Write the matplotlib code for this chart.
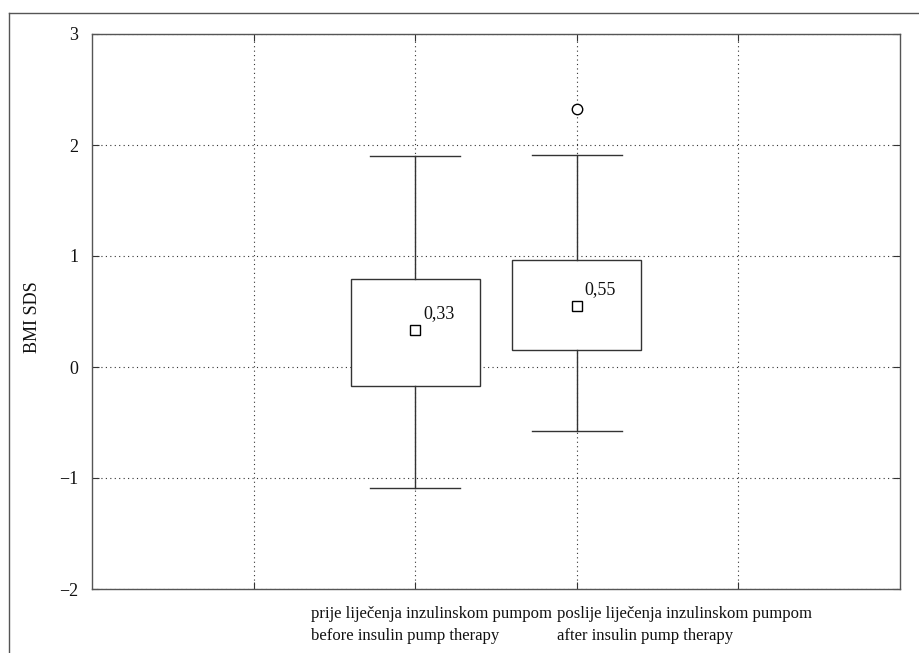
import matplotlib
matplotlib.use("Agg")
import matplotlib.pyplot as plt
from matplotlib.lines import Line2D

plt.rcParams['font.family'] = ['Liberation Serif', 'DejaVu Serif']

# ---- data ----
labels_hr = ["prije liječenja inzulinskom pumpom", "poslije liječenja inzulinskom pumpom"]
labels_en = ["before insulin pump therapy", "after insulin pump therapy"]
positions = [2, 3]
q1 = [-0.17, 0.155]
q3 = [0.79, 0.96]
whislo = [-1.09, -0.575]
whishi = [1.90, 1.91]
means = [0.33, 0.55]
mean_text = ["0,33", "0,55"]
outliers = [[], [2.32]]
yticks = [-2, -1, 0, 1, 2, 3]
ytick_labels = ["\u22122", "\u22121", "0", "1", "2", "3"]
ylabel = "BMI SDS"

W, H = 920, 653
fig = plt.figure(figsize=(W / 100, H / 100), dpi=100)
ax = fig.add_axes([92 / W, (H - 589) / H, 808 / W, 555 / H])

edge = '#333333'
stats = []
for i in range(len(positions)):
    stats.append(dict(q1=q1[i], q3=q3[i], med=(q1[i] + q3[i]) / 2, mean=means[i],
                      whislo=whislo[i], whishi=whishi[i], fliers=outliers[i]))

ax.bxp(stats, positions=positions, widths=0.8, capwidths=0.56, patch_artist=True,
       showmeans=True, shownotches=False,
       boxprops=dict(facecolor='white', edgecolor=edge, linewidth=1.0),
       whiskerprops=dict(color=edge, linewidth=1.0),
       capprops=dict(color=edge, linewidth=1.0),
       medianprops=dict(linewidth=0),
       meanprops=dict(marker='s', markerfacecolor='white', markeredgecolor='black',
                      markersize=6.5, markeredgewidth=1.0),
       flierprops=dict(marker='o', markerfacecolor='white', markeredgecolor='black',
                       markersize=7.5, markeredgewidth=1.0),
       zorder=3)

for x, m, t in zip(positions, means, mean_text):
    ax.annotate(t, xy=(x, m), xytext=(8, 12), textcoords='offset pixels',
                fontsize=13, ha='left', va='baseline', color='#111111', zorder=5)

ax.set_xlim(0, 5)
ax.set_ylim(-2, 3)
ax.set_xticks([1, 2, 3, 4])
ax.set_xticklabels([])
ax.set_yticks(yticks)
ax.set_yticklabels(ytick_labels, fontsize=13)
ax.tick_params(direction='in', length=5, width=0.8, color=edge, top=True, right=True,
               pad=10, labelcolor='#111111')
ax.grid(True, linestyle=(0, (1, 3)), color='#333333', linewidth=0.8, zorder=0)
ax.set_axisbelow(True)
for s in ax.spines.values():
    s.set_color('#555555')
    s.set_linewidth(1.0)

ax.set_ylabel(ylabel, fontsize=13, color='#111111')
ax.yaxis.set_label_coords(-0.0636, 0.49)

# category labels (two lines, left aligned)
label_left_px = [311, 557]
for xp, hr, en in zip(label_left_px, labels_hr, labels_en):
    fig.text(xp / W, 1 - 618 / H, hr, fontsize=12, ha='left', va='baseline', color='#111111')
    fig.text(xp / W, 1 - 640 / H, en, fontsize=12, ha='left', va='baseline', color='#111111')

# outer frame (left and top edges)
fig.add_artist(Line2D([9.5 / W, 9.5 / W], [0, 1 - 13 / H], transform=fig.transFigure,
                      color='#555555', linewidth=1.0))
fig.add_artist(Line2D([9.5 / W, 1], [1 - 13 / H, 1 - 13 / H], transform=fig.transFigure,
                      color='#555555', linewidth=1.0))

fig.savefig('out.png', dpi=100, facecolor='white')
